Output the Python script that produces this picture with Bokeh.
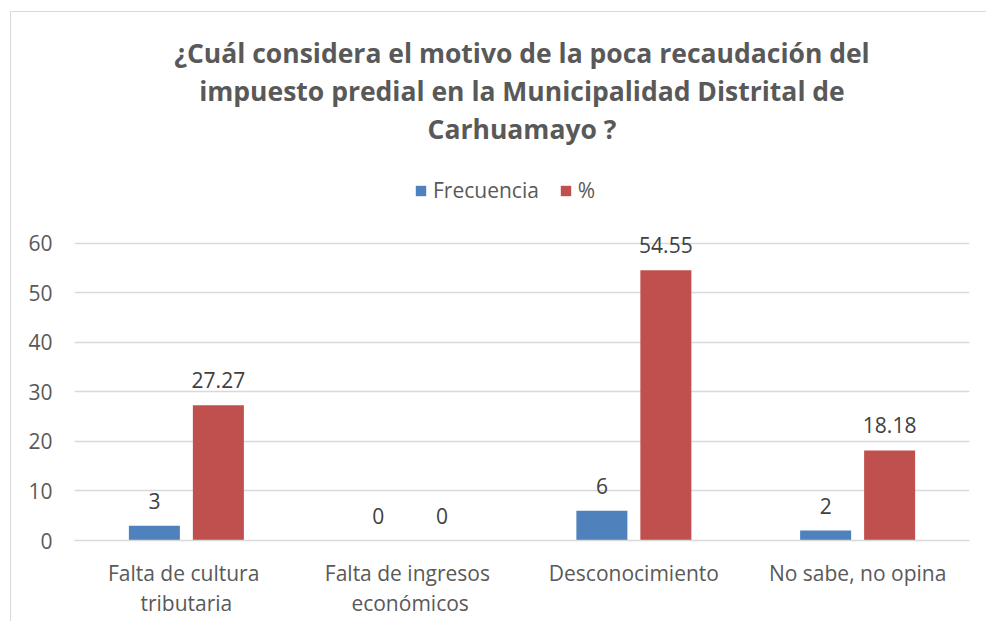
from bokeh.plotting import figure
from bokeh.models import ColumnDataSource, LabelSet, Legend, LegendItem, Title, FixedTicker
from bokeh.transform import dodge
from bokeh.core.properties import value
from bokeh.embed import file_html
from bokeh.resources import INLINE

categories = ["Falta  de cultura\ntributaria", "Falta  de ingresos\neconómicos",
              "Desconocimiento", "No sabe, no opina"]
frecuencia = [3, 0, 6, 2]
porcentaje = [27.27, 0, 54.55, 18.18]
freq_labels = ["3", "0", "6", "2"]
pct_labels = ["27.27", "0", "54.55", "18.18"]
series_names = ["Frecuencia", "%"]
y_ticks = [0, 10, 20, 30, 40, 50, 60]
title_lines = ["¿Cuál considera el motivo de la poca recaudación del",
               "impuesto predial en la Municipalidad Distrital de",
               "Carhuamayo ?"]

FONT = "Open Sans"
TXT = "#595959"
BLUE = "#4F81BD"
RED = "#C0504D"
GRID = "#D9D9D9"

src = ColumnDataSource(dict(cat=categories, freq=frecuencia, pct=porcentaje,
                            fl=freq_labels, pl=pct_labels))

# y range extends above the last gridline (60) to leave room for the legend
p = figure(x_range=categories, y_range=(0, 79.5), width=976, height=610,
           output_backend="svg", toolbar_location=None,
           min_border_left=63, min_border_right=18, min_border_top=0,
           min_border_bottom=82)
p.styles = {"margin-left": "10px", "margin-top": "11px",
            "border-left": "1px solid #d9d9d9", "border-top": "1px solid #d9d9d9"}
p.title.visible = False
p.outline_line_color = None
p.x_range.range_padding = 0

r1 = p.vbar(x=dodge("cat", -0.143, range=p.x_range), top="freq", width=0.228,
            source=src, fill_color=BLUE, line_color=None)
r2 = p.vbar(x=dodge("cat", 0.143, range=p.x_range), top="pct", width=0.228,
            source=src, fill_color=RED, line_color=None)

for xo, col, lab in [(-0.143, "freq", "fl"), (0.143, "pct", "pl")]:
    ls = LabelSet(x=dodge("cat", xo, range=p.x_range), y=col, text=lab, source=src,
                  text_align="center", text_baseline="bottom", y_offset=17,
                  text_font=value(FONT), text_font_size="21px", text_color="#404040")
    p.add_layout(ls)

p.xgrid.grid_line_color = None
p.ygrid.grid_line_color = GRID
p.ygrid.grid_line_width = 1.3
p.yaxis.ticker = FixedTicker(ticks=y_ticks)
p.yaxis.axis_line_color = None
p.yaxis.major_tick_line_color = None
p.yaxis.minor_tick_line_color = None
p.yaxis.major_tick_out = 0
p.yaxis.major_label_standoff = 22
p.xaxis.axis_line_color = GRID
p.xaxis.axis_line_width = 1.3
p.xaxis.major_tick_line_color = None
p.xaxis.major_tick_out = 0
p.xaxis.major_label_standoff = 18
p.xaxis.major_label_text_line_height = 1.1
for ax in (p.xaxis, p.yaxis):
    ax.major_label_text_font = FONT
    ax.major_label_text_font_size = "21px"
    ax.major_label_text_color = TXT

legend = Legend(items=[LegendItem(label=series_names[0], renderers=[r1]),
                       LegendItem(label=series_names[1], renderers=[r2])],
                orientation="horizontal", location=(340, 336),
                glyph_width=13, glyph_height=13, label_text_font=FONT,
                label_text_font_size="21px", label_text_color=TXT,
                border_line_color=None, background_fill_alpha=0,
                spacing=20, label_standoff=6, padding=4, margin=0)
p.add_layout(legend, "center")

for line in reversed(title_lines):
    t = Title(text=line, align="center", text_font=FONT, text_font_size="26.5px",
              text_font_style="bold", text_color=TXT, standoff=0, offset=-16)
    p.add_layout(t, "above")
p.add_layout(Title(text=" ", text_font_size="15px", standoff=1), "above")

open("out.html", "w").write(file_html(p, INLINE))
